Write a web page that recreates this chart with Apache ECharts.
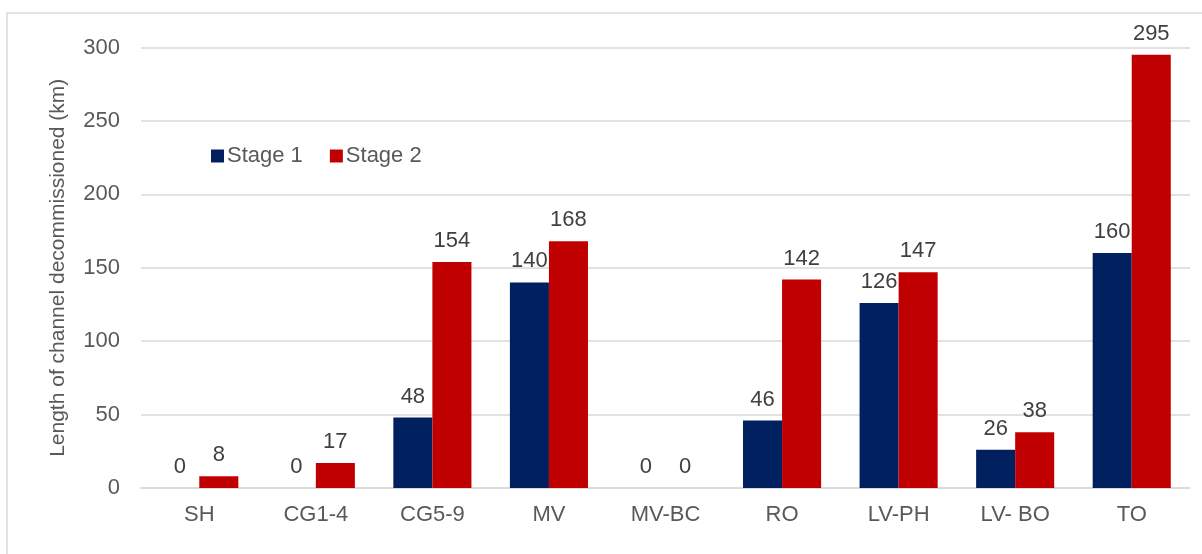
<!DOCTYPE html>
<html>
<head>
<meta charset="utf-8">
<script src="https://cdn.jsdelivr.net/npm/echarts@6/dist/echarts.min.js"></script>
<style>
  html, body { margin: 0; padding: 0; background: #fff; }
  #chart { width: 1202px; height: 554px; }
</style>
</head>
<body>
<div id="chart"></div>
<script>
// Channel lengths decommissioned per reach (km)
const categories = ['SH', 'CG1-4', 'CG5-9', 'MV', 'MV-BC', 'RO', 'LV-PH', 'LV- BO', 'TO'];
const stage1 = [0, 0, 48, 140, 0, 46, 126, 26, 160];
const stage2 = [8, 17, 154, 168, 0, 142, 147, 38, 295];
const yTicks = { min: 0, max: 300, interval: 50 };

const FONT = '"Liberation Sans", Arial, sans-serif';

const chart = echarts.init(document.getElementById('chart'), null, { renderer: 'canvas' });

const labelStyle = {
  show: true,
  position: 'top',
  distance: 10,
  color: '#404040',
  fontSize: 22,
  fontFamily: FONT
};

chart.setOption({
  animation: false,
  backgroundColor: '#fff',
  graphic: [{
    type: 'rect',
    shape: { x: 7, y: 13, width: 1205, height: 550 },
    style: { fill: 'none', stroke: '#d9d9d9', lineWidth: 1.5 },
    silent: true
  }],
  grid: { left: 141, right: 12, top: 47.5, bottom: 66 },
  legend: {
    left: 206,
    top: 140,
    itemWidth: 13,
    itemHeight: 13,
    itemGap: 27,
    icon: 'rect',
    textStyle: { color: '#595959', fontSize: 22, fontFamily: FONT, padding: [0, 0, 0, -2] },
    data: ['Stage 1', 'Stage 2']
  },
  xAxis: {
    type: 'category',
    data: categories,
    axisLine: { show: true, lineStyle: { color: '#d9d9d9', width: 1.5 } },
    axisTick: { show: false },
    axisLabel: { color: '#595959', fontSize: 22, fontFamily: FONT, margin: 16 }
  },
  yAxis: {
    type: 'value',
    min: yTicks.min,
    max: yTicks.max,
    interval: yTicks.interval,
    name: 'Length of channel decommissioned (km)',
    nameLocation: 'middle',
    nameGap: 72,
    nameRotate: 90,
    nameTextStyle: { color: '#595959', fontSize: 21, fontFamily: FONT },
    axisLine: { show: false },
    axisTick: { show: false },
    axisLabel: { color: '#595959', fontSize: 22, fontFamily: FONT, margin: 21 },
    splitLine: { lineStyle: { color: '#d9d9d9', width: 1.5 } }
  },
  series: [
    {
      name: 'Stage 1',
      type: 'bar',
      data: stage1,
      itemStyle: { color: '#002060' },
      barGap: '0%',
      barCategoryGap: '33%',
      label: labelStyle
    },
    {
      name: 'Stage 2',
      type: 'bar',
      data: stage2,
      itemStyle: { color: '#c00000' },
      barGap: '0%',
      barCategoryGap: '33%',
      label: labelStyle
    }
  ]
});
</script>
</body>
</html>
